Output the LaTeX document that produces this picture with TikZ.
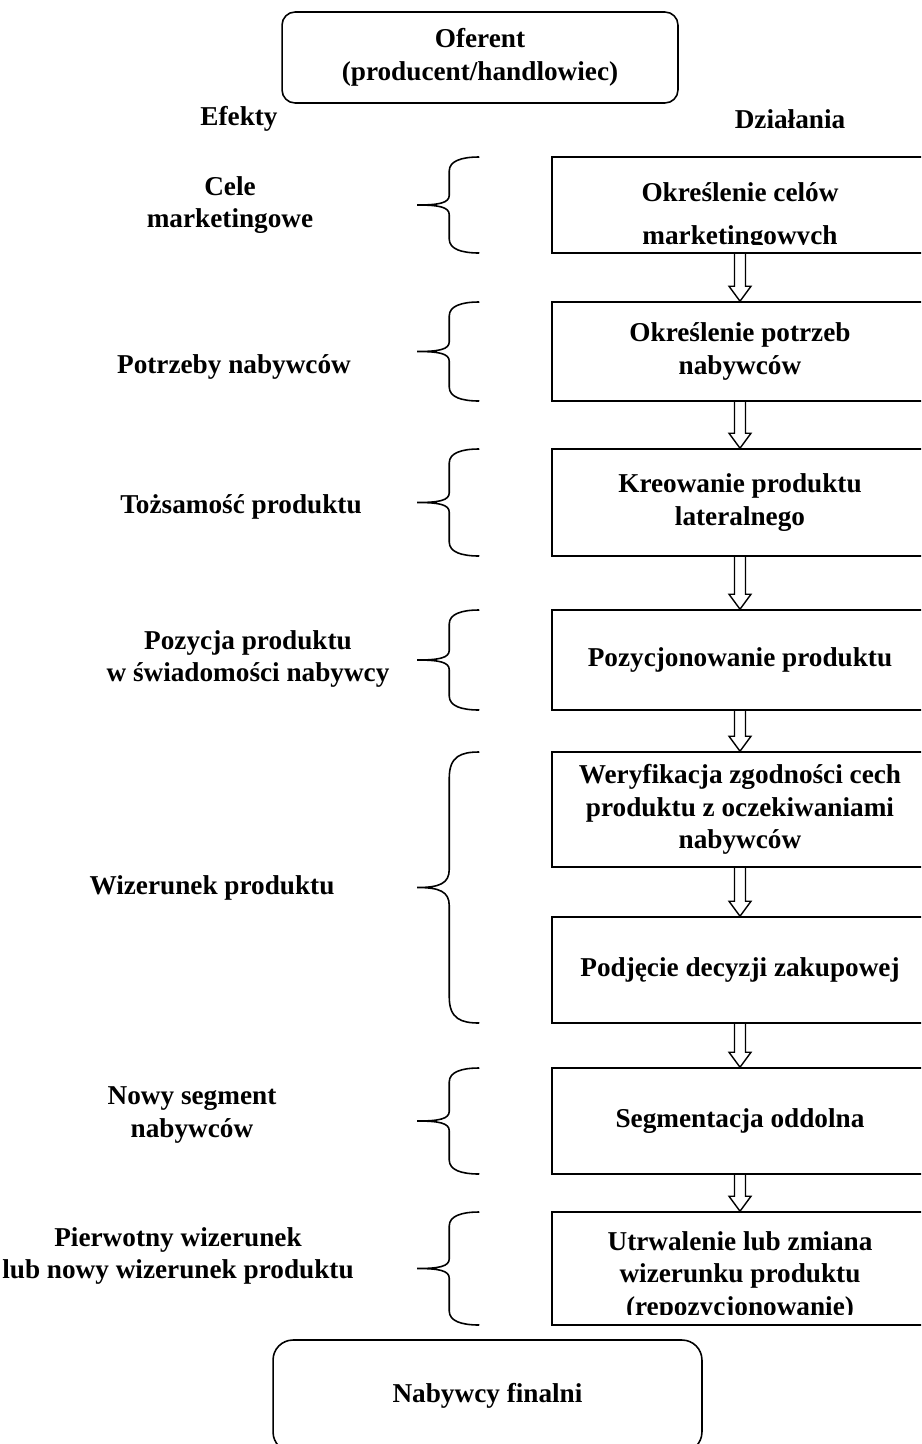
\documentclass[tikz,border=0pt]{standalone}
\usepackage{fontspec}
\setmainfont{Liberation Serif}
\usetikzlibrary{calc}

% hollow block arrow between two boxes
\newcommand{\flowarrow}[2]{%
  \draw[line width=0.8pt] ($(#1.south)+(-5.5,0)$) -- ($(#2.north)+(-5.5,-15)$)
    -- ($(#2.north)+(-11,-15)$) -- (#2.north) -- ($(#2.north)+(11,-15)$)
    -- ($(#2.north)+(5.5,-15)$) -- ($(#1.south)+(5.5,0)$);}
% left brace: #1 middle of the left side, #2 half height, #3 bend size
\newcommand{\efbrace}[3]{%
  \draw[line width=0.9pt,shift={(#1)}] (-72,-#2) .. controls (-90,-#2) and (-102,-#2+4) .. (-102,-#2+#3)
    -- (-102,-0.7*#3) .. controls (-102,-0.15*#3) and (-112,0) .. (-134,0)
    .. controls (-112,0) and (-102,0.15*#3) .. (-102,0.7*#3)
    -- (-102,#2-#3) .. controls (-102,#2-4) and (-90,#2) .. (-72,#2);}

\begin{document}
\begin{tikzpicture}[x=0.02cm,y=-0.02cm,
  every node/.style={font=\bfseries\fontsize{15.5}{18.5}\selectfont,align=center},
  actbox/.style={draw,line width=0.9pt,minimum width=7.52cm,inner sep=0pt},
  endbox/.style={draw,line width=0.9pt,rounded corners=0.26cm,inner sep=0pt}]
  \clip (0,0) rectangle (921,1444);
  \node[endbox,minimum width=7.92cm,minimum height=1.82cm] (oferent) at (480,57.5) {Oferent\\(producent/handlowiec)};
  \node[endbox,minimum width=8.58cm,minimum height=2.24cm,rounded corners=0.4cm] (nabywcy) at (487.5,1396) {Nabywcy finalni};
  \node (efekty) at (239,119) {Efekty};
  \node (dzialania) at (790,119) {Działania};

  % Działania
  \node[actbox,minimum height=1.92cm] (b1) at (740,205) {};
  \node[actbox,minimum height=1.98cm] (b2) at (740,351.5) {Określenie potrzeb\\nabywców};
  \node[actbox,minimum height=2.14cm] (b3) at (740,502.5) {Kreowanie produktu\\lateralnego};
  \node[actbox,minimum height=2cm] (b4) at (740,660) {Pozycjonowanie produktu};
  \node[actbox,minimum height=2.3cm] (b5) at (740,809.5) {Weryfikacja zgodności cech\\produktu z oczekiwaniami\\nabywców};
  \node[actbox,minimum height=2.12cm] (b6) at (740,970) {Podjęcie decyzji zakupowej};
  \node[actbox,minimum height=2.12cm] (b7) at (740,1121) {Segmentacja oddolna};
  \node[actbox,minimum height=2.26cm] (b8) at (740,1268.5) {};
  \begin{scope}
    \clip (b1.north west) rectangle ($(b1.south east)+(0,-9)$);
    \node (t1) at (740,217) {Określenie celów\\[6pt]marketingowych};
  \end{scope}
  \begin{scope}
    \clip (b8.north west) rectangle ($(b8.south east)+(0,-11)$);
    \node (t8) at (740,1276) {Utrwalenie lub zmiana\\wizerunku produktu\\(repozycjonowanie)};
  \end{scope}

  % Efekty
  \node (e1) at (230,205) {Cele\\marketingowe};
  \node (e2) at (234,367) {Potrzeby nabywców};
  \node (e3) at (241,507) {Tożsamość produktu};
  \node (e4) at (248,659) {Pozycja produktu\\w świadomości nabywcy};
  \node (e5) at (212,888) {Wizerunek produktu};
  \node (e6) at (192,1115) {Nowy segment\\nabywców};
  \node (e7) at (178,1256) {Pierwotny wizerunek\\lub nowy wizerunek produktu};

  \flowarrow{b1}{b2}
  \flowarrow{b2}{b3}
  \flowarrow{b3}{b4}
  \flowarrow{b4}{b5}
  \flowarrow{b5}{b6}
  \flowarrow{b6}{b7}
  \flowarrow{b7}{b8}

  \efbrace{b1.west}{48}{14}
  \efbrace{b2.west}{49.5}{14}
  \efbrace{b3.west}{53.5}{14}
  \efbrace{b4.west}{50}{14}
  \coordinate (w) at ($(b5.north west)!0.5!(b6.south west)$);
  \efbrace{w}{135.5}{26}
  \efbrace{b7.west}{53}{14}
  \efbrace{b8.west}{56.5}{14}
\end{tikzpicture}
\end{document}
